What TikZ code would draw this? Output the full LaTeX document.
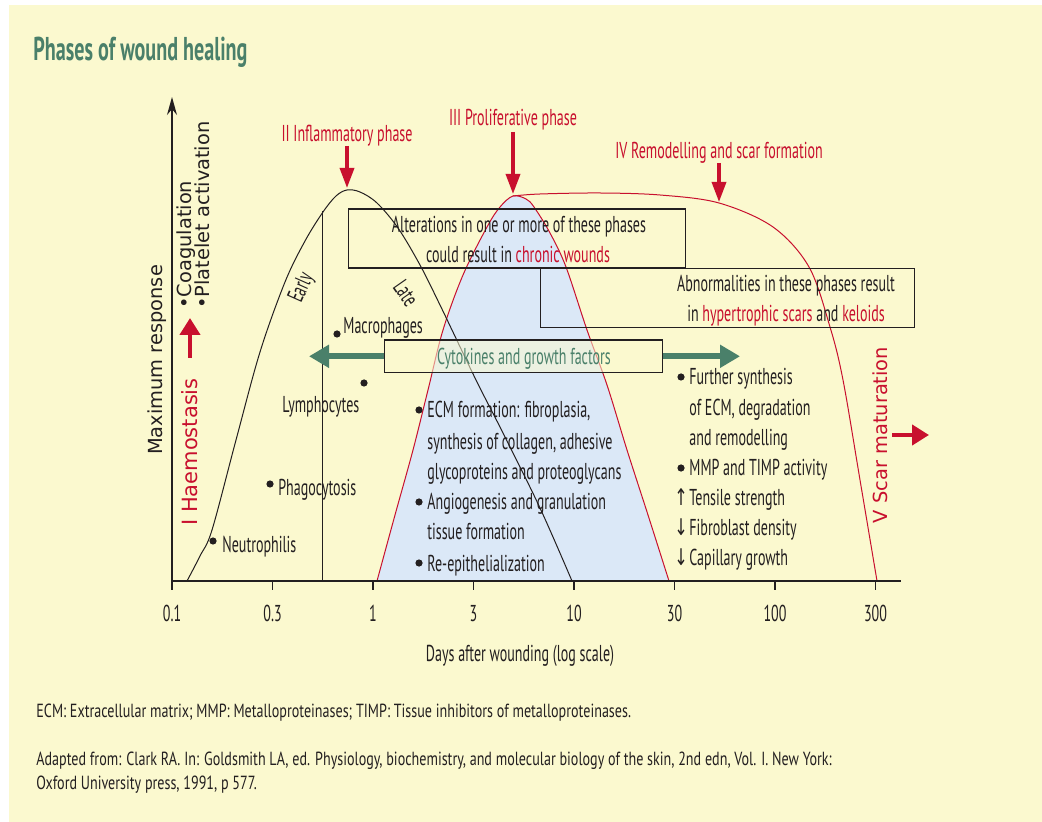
\documentclass[tikz,border=0pt]{standalone}
\usepackage{fontspec}
\usetikzlibrary{arrows.meta}
\newfontfamily\condf{PT Sans}[FakeStretch=0.61]
\newfontfamily\titlef{PT Sans Bold}[FakeStretch=0.61]
\newfontfamily\footf{PT Sans}[FakeStretch=0.742]
\newfontfamily\verdf{DejaVu Sans}
\newfontfamily\arrf{DejaVu Sans}[FakeStretch=0.7]
\definecolor{bgy}{RGB}{251,249,207}
\definecolor{blu}{RGB}{219,232,247}
\definecolor{redc}{RGB}{200,16,46}
\definecolor{grn}{RGB}{74,128,106}
\definecolor{txt}{RGB}{35,31,32}
\tikzset{
  body/.style={font=\condf\fontsize{11.5}{13}\selectfont, text=txt, inner sep=0pt, text height=8pt, text depth=0pt},
  redlab/.style={body, text=redc},
  verd/.style={font=\verdf\fontsize{9.7}{11}\selectfont, text=txt, inner sep=0pt, text height=7.1pt, text depth=0pt},
  foot/.style={font=\footf\fontsize{9.5}{11}\selectfont, text=txt, inner sep=0pt, text height=6.6pt, text depth=0pt, anchor=west},
  ttl/.style={font=\titlef\fontsize{16.5}{19}\selectfont, text=grn, inner sep=0pt, text height=11.5pt, text depth=0pt, anchor=west},
  axisline/.style={draw=txt, line width=0.75pt},
  curveline/.style={draw=txt, line width=0.5pt},
  redcurve/.style={draw=redc, line width=0.5pt},
  frame/.style={draw=txt, line width=0.7pt, inner sep=0pt},
  phasearrow/.style={draw=redc, line width=1.7pt, -{Triangle[length=10pt,width=7pt]}},
  bigredarrow/.style={draw=redc, line width=2.3pt, -{Triangle[length=8.5pt,width=10pt]}},
  greenarrow/.style={draw=grn, line width=3pt, -{Triangle[length=10pt,width=11pt]}},
  dot/.style={fill=txt},
}
\begin{document}
\begin{tikzpicture}[x=0.5pt,y=-0.5pt]
\useasboundingbox (0,0) rectangle (1042,822);
\fill[white] (0,0) rectangle (1042,822);
\fill[bgy] (9,5) rectangle (1042,822);

% title
\node[ttl] (title) at (33,49) {Phases of wound healing};

% proliferative hump (blue)
\fill[blu] plot[smooth, tension=0.55] coordinates {(377,581) (395,515) (413,450) (428,390) (443,330) (463,275) (487,227) (500,207) (513,196) (526,199) (534,207) (550,233) (566,267) (587,330) (607,385) (627,450) (648,515) (669,581)} -- cycle;
\draw[redcurve] plot[smooth, tension=0.55] coordinates {(377,581) (395,515) (413,450) (428,390) (443,330) (463,275) (487,227) (500,207) (513,196) (526,199) (534,207) (550,233) (566,267) (587,330) (607,385) (627,450) (648,515) (669,581)};
% remodelling curve
\draw[redcurve] plot[smooth, tension=0.55] coordinates {(513,196) (540,194) (600,193) (660,195) (719,203) (773,227) (809,267) (830,327) (843,380) (860,480) (877,581)};
% inflammatory curve
\draw[curveline] plot[smooth, tension=0.55] coordinates {(187,581) (200,556) (212,530) (236,440) (260,352) (285,282) (305,241) (323,212) (336,196) (347,190) (360,192) (377,203) (398,228) (420,265) (440,305) (476,380) (503,433) (540,508) (572,581)};
\coordinate (vtop) at (322.5,211);
\coordinate (vbot) at (322.5,581);
\draw[curveline, line width=0.7pt] (vtop) -- (vbot);

% cytokines
\node[inner sep=0pt, minimum width=139.2pt, minimum height=16.35pt] (cyt) at (523.5,356.3) {};
\coordinate (cytL) at (309,356.3);
\coordinate (cytR) at (740,356.3);
\draw[greenarrow] (cyt.west) -- (cytL);
\draw[greenarrow] (cyt.east) -- (cytR);
\node[frame, fill=bgy, fill opacity=0.55, minimum width=139.2pt, minimum height=16.35pt] (cytbox) at (523.5,356.3) {};
\node[body, text=grn] (cyttxt) at (524,356.5) {Cytokines and growth factors};

% boxes
\node[frame, minimum width=168.5pt, minimum height=29.5pt] (altbox) at (517,238.5) {};
\node[body] (alt1) at (519,225) {Alterations in one or more of these phases};
\node[body] (alt2) at (518,255) {could result in \textcolor{redc}{chronic wounds}};
\node[frame, minimum width=187pt, minimum height=29.7pt] (abnbox) at (727.6,298) {};
\node[body] (abn1) at (786,284) {Abnormalities in these phases result};
\node[body] (abn2) at (786,314) {in \textcolor{redc}{hypertrophic scars} and \textcolor{redc}{keloids}};

% phase labels and arrows
\node[redlab] (p2) at (347,134) {II Inflammatory phase};
\coordinate (p2s) at (347,146); \coordinate (p2t) at (347,188);
\draw[phasearrow] (p2s) -- (p2t);
\node[redlab] (p3) at (513,118) {III Proliferative phase};
\coordinate (p3s) at (513,132); \coordinate (p3t) at (513,194);
\draw[phasearrow] (p3s) -- (p3t);
\node[redlab] (p4) at (719,151) {IV Remodelling and scar formation};
\coordinate (p4s) at (719,163); \coordinate (p4t) at (719,202);
\draw[phasearrow] (p4s) -- (p4t);

% early / late
\node[body, rotate=66] (early) at (300,287) {Early};
\node[body, rotate=-55] (late) at (406,293) {Late};

% inflammatory cells
\fill[dot] (337,334) circle (3.6);
\node[body, anchor=west] (macro) at (343,326) {Macrophages};
\fill[dot] (364,383) circle (3.6);
\node[body, anchor=west] (lympho) at (282,405) {Lymphocytes};
\fill[dot] (270,484) circle (3.6);
\node[body, anchor=west] (phago) at (278,487) {Phagocytosis};
\fill[dot] (213,541) circle (3.6);
\node[body, anchor=west] (neutro) at (222,544) {Neutrophilis};

% proliferative list
\fill[dot] (419,410) circle (3.6);
\fill[dot] (419,502) circle (3.6);
\fill[dot] (419,563) circle (3.6);
\node[body, anchor=west] (pl1) at (427,410) {ECM formation: fibroplasia,};
\node[body, anchor=west] (pl2) at (427,441.5) {synthesis of collagen, adhesive};
\node[body, anchor=west] (pl3) at (427,471.5) {glycoproteins and proteoglycans};
\node[body, anchor=west] (pl4) at (427,501.5) {Angiogenesis and granulation};
\node[body, anchor=west] (pl5) at (427,531.5) {tissue formation};
\node[body, anchor=west] (pl6) at (427,563) {Re-epithelialization};

% remodelling list
\fill[dot] (681,377) circle (3.6);
\fill[dot] (681,468) circle (3.6);
\node[body, anchor=west] (rl1) at (689,377) {Further synthesis};
\node[body, anchor=west] (rl2) at (689,408) {of ECM, degradation};
\node[body, anchor=west] (rl3) at (689,437.5) {and remodelling};
\node[body, anchor=west] (rl4) at (689,468) {MMP and TIMP activity};
\node[body, anchor=west] (rl5) at (689,497) {Tensile strength};
\node[body, anchor=west] (rl6) at (689,527) {Fibroblast density};
\node[body, anchor=west] (rl7) at (689,557) {Capillary growth};
\node[body, font=\arrf\fontsize{11.5}{13}\selectfont] (ar1) at (681,497) {↑};
\node[body, font=\arrf\fontsize{11.5}{13}\selectfont] (ar2) at (681,527) {↓};
\node[body, font=\arrf\fontsize{11.5}{13}\selectfont] (ar3) at (681,557) {↓};

% left vertical labels
\node[verd, rotate=90] (maxr) at (155,360) {Maximum response};
\node[verd, rotate=90, anchor=west] (coag) at (184,309) {•Coagulation};
\node[verd, rotate=90, anchor=west] (plat) at (202,309) {•Platelet activation};
\node[verd, rotate=90, text=redc, font=\verdf\fontsize{10.5}{12}\selectfont] (haem) at (190,452) {I Haemostasis};
\coordinate (haemS) at (190,358); \coordinate (haemT) at (190,318);
\draw[bigredarrow] (haemS) -- (haemT);

% scar maturation
\node[verd, rotate=90, text=redc] (scar) at (880,435) {V Scar maturation};
\coordinate (scarS) at (892,435); \coordinate (scarT) at (929,435);
\draw[bigredarrow] (scarS) -- (scarT);

% axes
\coordinate (o) at (172,581);
\coordinate (ytop) at (172,97);
\coordinate (xend) at (901,581);
\draw[axisline] (o) -- (xend);
\draw[axisline, -{Stealth[length=9pt,width=5pt]}] (o) -- (ytop);
\foreach \v [count=\i] in {0.1,0.3,1,3,10,30,100,300} {
  \coordinate (tk\i) at ({172+100.5*(\i-1)},581);
  \coordinate (tb\i) at ({172+100.5*(\i-1)},590);
  \draw[axisline] (tk\i) -- (tb\i);
  \node[body] (tl\i) at ({172+100.5*(\i-1)},613) {\v};
}
\node[body] (xlab) at (520,653) {Days after wounding (log scale)};

% footnotes
\node[foot] (fn1) at (36,711) {ECM: Extracellular matrix; MMP: Metalloproteinases; TIMP: Tissue inhibitors of metalloproteinases.};
\node[foot] (fn2) at (36,759) {Adapted from: Clark RA. In: Goldsmith LA, ed. Physiology, biochemistry, and molecular biology of the skin, 2nd edn, Vol. I. New York:};
\node[foot] (fn3) at (36,783) {Oxford University press, 1991, p 577.};
\end{tikzpicture}
\end{document}
